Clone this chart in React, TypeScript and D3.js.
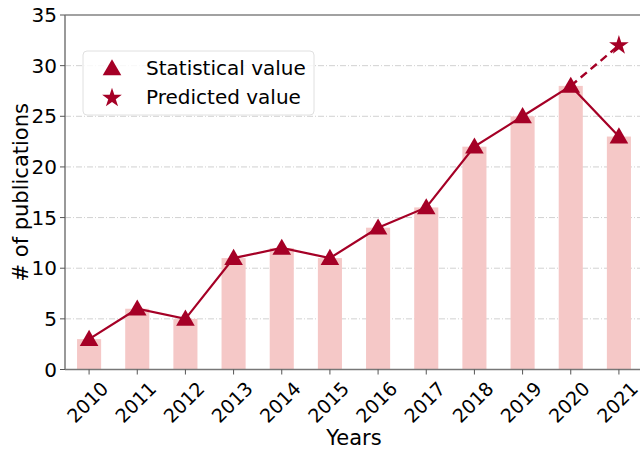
import React, { useRef, useEffect } from 'react';
import * as d3 from 'd3';

const years = ['2010', '2011', '2012', '2013', '2014', '2015', '2016', '2017', '2018', '2019', '2020', '2021'];
const publications = [3, 6, 5, 11, 12, 11, 14, 16, 22, 25, 28, 23];
const predicted = [{ year: '2020', value: 28 }, { year: '2021', value: 32 }];
const yTicks = [0, 5, 10, 15, 20, 25, 30, 35];

const App = () => {
  const ref = useRef<SVGSVGElement>(null);

  useEffect(() => {
    const svg = d3.select(ref.current);
    svg.selectAll('*').remove();

    const width = 640;
    const height = 451;
    const left = 65, right = 643, top = 15, bottom = 369.5;
    const font = 'DejaVu Sans, sans-serif';
    const red = '#a50026';

    // linear x in bar index units, xlim -0.5..11.5
    const xi = d3.scaleLinear().domain([-0.5, 11.5]).range([left, right]);
    const x = (yr: string) => xi(years.indexOf(yr));
    const bw = xi(0.5) - xi(0);
    const y = d3.scaleLinear().domain([0, 35]).range([bottom, top]);

    svg.attr('viewBox', `0 0 ${width} ${height}`);

    // grid
    svg.append('g').selectAll('line').data(yTicks.filter(t => t > 0 && t < 35)).join('line')
      .attr('x1', left).attr('x2', right).attr('y1', d => y(d)).attr('y2', d => y(d))
      .attr('stroke', '#cccccc').attr('stroke-width', 0.9).attr('stroke-dasharray', '6,2,1,2');

    // bars
    svg.append('g').selectAll('rect').data(publications).join('rect')
      .attr('x', (d, i) => x(years[i]) - bw / 2).attr('width', bw)
      .attr('y', d => y(d)).attr('height', d => y(0) - y(d))
      .attr('fill', '#f5c8c7');

    // predicted dashed
    const line = d3.line<{ year: string; value: number }>().x(d => x(d.year)).y(d => y(d.value));
    svg.append('path').datum(predicted).attr('d', line).attr('fill', 'none')
      .attr('stroke', red).attr('stroke-width', 2.4).attr('stroke-dasharray', '8,5');

    // statistical line
    const pts = publications.map((v, i) => ({ year: years[i], value: v }));
    svg.append('path').datum(pts).attr('d', line).attr('fill', 'none')
      .attr('stroke', red).attr('stroke-width', 2.2);

    const tri = d3.symbol().type(d3.symbolTriangle).size(150);
    const star = d3.symbol().type(d3.symbolStar).size(120);

    svg.append('g').selectAll('path').data(pts).join('path')
      .attr('d', tri()).attr('transform', d => `translate(${x(d.year)},${y(d.value) + 1.5})`).attr('fill', red);

    svg.append('path').attr('d', star())
      .attr('transform', `translate(${x('2021')},${y(32)})`).attr('fill', red);

    // spines
    svg.append('line').attr('x1', left).attr('x2', right).attr('y1', top).attr('y2', top)
      .attr('stroke', '#444').attr('stroke-width', 1.2);
    svg.append('line').attr('x1', left).attr('x2', left).attr('y1', top).attr('y2', bottom)
      .attr('stroke', '#777').attr('stroke-width', 1.5);
    svg.append('line').attr('x1', left).attr('x2', right).attr('y1', bottom).attr('y2', bottom)
      .attr('stroke', '#777').attr('stroke-width', 1.5);

    // y ticks
    const yt = svg.append('g');
    yt.selectAll('line').data(yTicks).join('line')
      .attr('x1', left - 5).attr('x2', left).attr('y1', d => y(d)).attr('y2', d => y(d))
      .attr('stroke', '#555');
    yt.selectAll('text').data(yTicks).join('text')
      .attr('x', left - 8).attr('y', d => y(d)).attr('dy', '0.36em')
      .attr('text-anchor', 'end').attr('font-family', font).attr('font-size', 20)
      .text(d => d);

    // x ticks
    const xt = svg.append('g');
    xt.selectAll('line').data(years).join('line')
      .attr('x1', d => x(d)).attr('x2', d => x(d)).attr('y1', bottom).attr('y2', bottom + 5)
      .attr('stroke', '#555');
    xt.selectAll('text').data(years).join('text')
      .attr('transform', d => `translate(${x(d) + 11},${bottom + 11}) rotate(-45)`)
      .attr('text-anchor', 'end').attr('dy', '0.7em').attr('font-family', font).attr('font-size', 19)
      .text(d => d);

    // axis labels
    svg.append('text').attr('x', (left + right) / 2).attr('y', 445)
      .attr('text-anchor', 'middle').attr('font-family', font).attr('font-size', 21).text('Years');
    svg.append('text').attr('transform', `translate(28,${(top + bottom) / 2}) rotate(-90)`)
      .attr('text-anchor', 'middle').attr('font-family', font).attr('font-size', 21).text('# of publications');

    // legend
    const lg = svg.append('g');
    lg.append('rect').attr('x', 83).attr('y', 51).attr('width', 231).attr('height', 64).attr('rx', 4)
      .attr('fill', 'white').attr('fill-opacity', 0.85).attr('stroke', '#e0e0e0');
    lg.append('path').attr('d', tri()).attr('transform', 'translate(112,70)').attr('fill', red);
    lg.append('path').attr('d', star()).attr('transform', 'translate(112,98)').attr('fill', red);
    lg.append('text').attr('x', 146).attr('y', 68).attr('dy', '0.36em').attr('font-family', font)
      .attr('font-size', 20).text('Statistical value');
    lg.append('text').attr('x', 146).attr('y', 97).attr('dy', '0.36em').attr('font-family', font)
      .attr('font-size', 20).text('Predicted value');
  }, []);

  return <svg ref={ref} width={640} height={451} style={{ position: 'absolute', left: 0, top: 0 }} />;
};

export default App;
